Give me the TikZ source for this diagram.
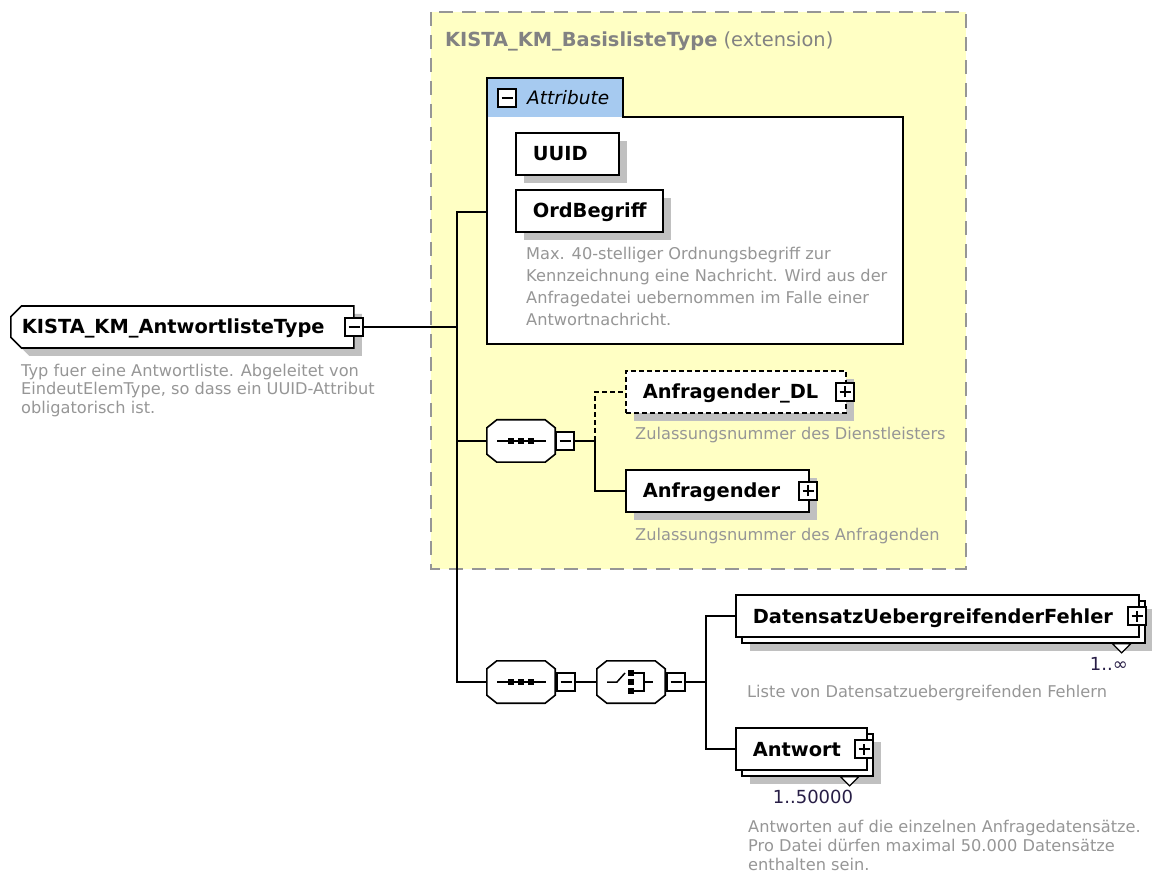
\documentclass[tikz,border=0pt]{standalone}
\usepackage{fontspec}
\setmainfont{DejaVu Sans}
\usetikzlibrary{shapes.misc,shadows}
\definecolor{extyellow}{RGB}{255,255,196}
\definecolor{extborder}{RGB}{150,150,150}
\definecolor{attrblue}{RGB}{166,202,240}
\definecolor{shade}{RGB}{192,192,192}
\definecolor{desctext}{RGB}{150,150,150}
\definecolor{titletext}{RGB}{130,130,130}
\definecolor{multtext}{RGB}{40,30,70}

\begin{document}
\begin{tikzpicture}[x=1pt,y=-1pt]

      \tikzset{elembase/.style={draw, fill=white, line width=1.6pt, rectangle, minimum height=42pt, inner xsep=17pt, inner ysep=0pt, text height=14pt, text depth=0pt, align=left, font=\fontsize{19.4}{23}\selectfont\bfseries},
               elem/.style={elembase, drop shadow={shadow xshift=8pt, shadow yshift=-8pt, fill=shade, opacity=1}},
               optelem/.style={elem, dash pattern=on 5pt off 3pt},
               multelem/.style={elembase, drop shadow={shadow xshift=14pt, shadow yshift=-14pt, fill=shade, opacity=1}, copy shadow={shadow xshift=6pt, shadow yshift=-6pt}},
               compositor/.style={rectangle, minimum width=68pt, minimum height=42pt, inner sep=0pt},
               sign/.style={draw, fill=white, line width=1.5pt, minimum size=18pt, inner sep=0pt},
               minus/.style={sign, path picture={\draw[line width=1.5pt] ([xshift=-5.5pt]path picture bounding box.center) -- ([xshift=5.5pt]path picture bounding box.center);}},
               plus/.style={sign, path picture={\draw[line width=1.5pt] ([xshift=-5.5pt]path picture bounding box.center) -- ([xshift=5.5pt]path picture bounding box.center) ([yshift=-5.5pt]path picture bounding box.center) -- ([yshift=5.5pt]path picture bounding box.center);}},
               desc/.style={anchor=north west, inner sep=0pt, align=left, text=desctext, font=\fontsize{16.2}{18.5}\selectfont},
               mult/.style={inner sep=0pt, text=multtext, font=\fontsize{18}{22}\selectfont},
               conn/.style={line width=1.6pt}}

      \useasboundingbox (0,0) rectangle (1152,882);

%% Extension frame
      \draw[fill=extyellow, draw=extborder, line width=2pt, dash pattern=on 14pt off 9pt] (431,12) rectangle (966,569);
      \node[anchor=base west, inner sep=0pt, text=titletext, font=\fontsize{19.4}{23}\selectfont] (exttitle) at (445,47) {\textbf{KISTA\_KM\_BasislisteType} (extension)};

%% Attribute group
      \path[fill=white] (487,78) -- (623,78) -- (623,117) -- (903,117) -- (903,344) -- (487,344) -- cycle;
      \fill[attrblue] (487,78) rectangle (623,117);
      \draw[line width=1.6pt] (487,78) -- (623,78) -- (623,117) -- (903,117) -- (903,344) -- (487,344) -- cycle;
      \node[minus] (attrsw) at (507,98) {};
      \node[anchor=base west, inner sep=0pt, font=\fontsize{18.5}{22}\selectfont\itshape] (attrlbl) at (527,105) {Attribute};
      \node[elem, anchor=west, text width=69pt] (uuid) at (515,154) {UUID};
      \node[elem, anchor=west, text width=113pt] (ordbegriff) at (515,211) {OrdBegriff};
      \node[desc, font=\fontsize{16.2}{22}\selectfont] (ordbegriffdesc) at (526,246.7) {Max. 40-stelliger Ordnungsbegriff zur\\Kennzeichnung eine Nachricht. Wird aus der\\Anfragedatei uebernommen im Falle einer\\Antwortnachricht.};
      \coordinate (attrin) at (487,212);

%% Root element
      \node[elem, chamfered rectangle, chamfered rectangle corners={north west,south west}, chamfered rectangle xsep=8pt, inner xsep=4pt, anchor=west, text width=321pt] (root) at (10,327) {KISTA\_KM\_AntwortlisteType};
      \node[minus] (rootsw) at (354,327) {};
      \node[desc] (rootdesc) at (21,363.7) {Typ fuer eine Antwortliste. Abgeleitet von\\EindeutElemType, so dass ein UUID-Attribut\\obligatorisch ist.};

%% Compositors
      \node[compositor] (seqa) at (521,441) {};
      \node[compositor] (seqb) at (521,682) {};
      \node[compositor] (choice) at (631,682) {};
      \foreach \c in {seqa,seqb,choice}{
        \begin{scope}[shift={(8pt,-8pt)}]
          \fill[shade] ([xshift=10pt]\c.north west) -- ([xshift=-10pt]\c.north east) -- ([yshift=-8pt]\c.north east) -- ([yshift=8pt]\c.south east) -- ([xshift=-10pt]\c.south east) -- ([xshift=10pt]\c.south west) -- ([yshift=8pt]\c.south west) -- ([yshift=-8pt]\c.north west) -- cycle;
        \end{scope}
        \draw[line width=1.6pt, fill=white] ([xshift=10pt]\c.north west) -- ([xshift=-10pt]\c.north east) -- ([yshift=-8pt]\c.north east) -- ([yshift=8pt]\c.south east) -- ([xshift=-10pt]\c.south east) -- ([xshift=10pt]\c.south west) -- ([yshift=8pt]\c.south west) -- ([yshift=-8pt]\c.north west) -- cycle;
      }
      \node[minus] (seqasw) at (565,441) {};
      \node[minus] (seqbsw) at (566,682) {};
      \node[minus] (choicesw) at (676,682) {};

%% First sequence
      \node[optelem, anchor=west, text width=186pt] (anfrdl) at (625,392) {Anfragender\_DL};
      \node[plus] (anfrdlsw) at (845,392) {};
      \node[desc] (anfrdldesc) at (635,426.7) {Zulassungsnummer des Dienstleisters};
      \node[elem, anchor=west, text width=149pt] (anfr) at (625,491) {Anfragender};
      \node[plus] (anfrsw) at (808,491) {};
      \node[desc] (anfrdesc) at (635,527.7) {Zulassungsnummer des Anfragenden};

%% Second sequence and choice
      \node[multelem, anchor=west, text width=369pt] (dsf) at (735,616) {DatensatzUebergreifenderFehler};
      \node[plus] (dsfsw) at (1137,616) {};
      \node[mult, anchor=base east] (dsfmult) at (1128,670) {1..∞};
      \node[desc] (dsfdesc) at (747,684.7) {Liste von Datensatzuebergreifenden Fehlern};
      \node[multelem, anchor=west, text width=97pt] (antw) at (735,749) {Antwort};
      \node[plus] (antwsw) at (864,749) {};
      \node[mult, anchor=base] (antwmult) at (813,803.5) {1..50000};
      \node[desc, font=\fontsize{16.2}{19}\selectfont] (antwdesc) at (748,819.7) {Antworten auf die einzelnen Anfragedatensätze.\\Pro Datei dürfen maximal 50.000 Datensätze\\enthalten sein.};

%% Compositor symbols
      \foreach \seq in {seqa,seqb}{
        \begin{scope}[shift={(\seq.center)}]
          \draw[line width=1.5pt] (-24,0) -- (25,0);
          \foreach \dx in {-10,0,10} \fill ({\dx-3},-3) rectangle ({\dx+3},3);
        \end{scope}
      }
      \begin{scope}[shift={(choice.center)}]
        \draw[line width=1.5pt] (-24,0) -- (-14,0) -- (-6,-9);
        \foreach \dy in {-9,0,9} \fill (-3,{\dy-3}) rectangle (3,{\dy+3});
        \draw[line width=1.5pt] (3,-9) -- (13,-9) -- (13,9) -- (3,9) (13,0) -- (22,0);
      \end{scope}

%% Multiplicity marks
      \draw[line width=1.2pt, fill=white] ([shift={(-27pt,-6pt)}]dsf.south east) -- ++(18,0) -- ++(-9,9) -- cycle;
      \draw[line width=1.2pt, fill=white] ([shift={(-27pt,-6pt)}]antw.south east) -- ++(18,0) -- ++(-9,9) -- cycle;

%Edges
      \coordinate (trunk) at (457,327);
      \coordinate (fana) at (595,441);
      \coordinate (fanb) at (706,682);
      \draw[conn] (rootsw.east) -- (trunk);
      \draw[conn] (trunk) |- (attrin);
      \draw[conn] (trunk) |- (seqa.west);
      \draw[conn] (trunk) |- (seqb.west);
      \draw[conn] (seqasw.east) -- (fana);
      \draw[conn, dash pattern=on 5pt off 3pt] (fana) |- (anfrdl.west);
      \draw[conn] (fana) |- (anfr.west);
      \draw[conn] (seqbsw.east) -- (choice.west);
      \draw[conn] (choicesw.east) -- (fanb);
      \draw[conn] (fanb) |- (dsf.west);
      \draw[conn] (fanb) |- (antw.west);
\end{tikzpicture}
\end{document}
